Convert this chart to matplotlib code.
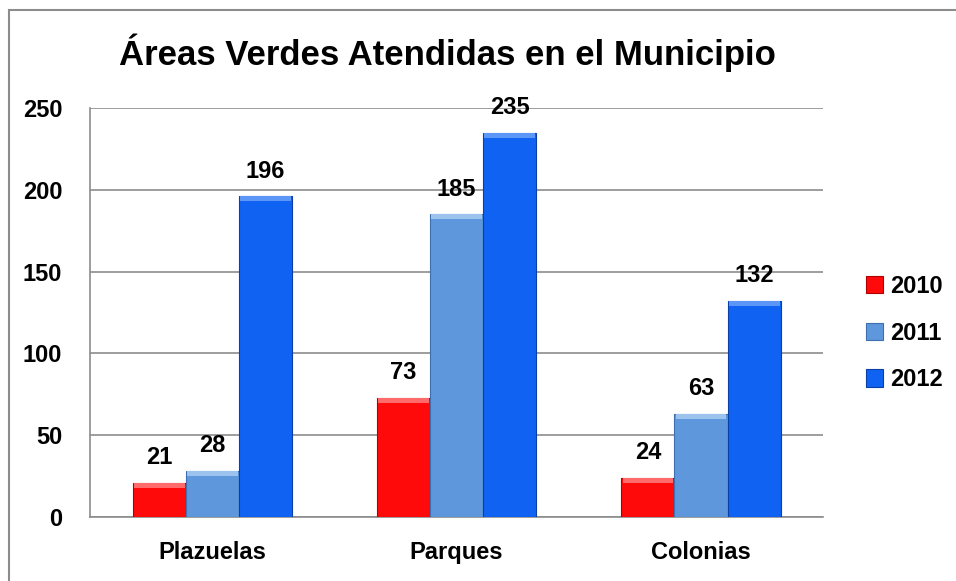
import numpy as np
import matplotlib as mpl
mpl.use("agg")
from matplotlib import pyplot as plt

# data
categories = ["Plazuelas", "Parques", "Colonias"]
years = ["2010", "2011", "2012"]
values2010 = [21, 73, 24]
values2011 = [28, 185, 63]
values2012 = [196, 235, 132]
yTicks = [0, 50, 100, 150, 200, 250]

plt.rcParams["font.family"] = ["Liberation Sans Narrow", "Liberation Sans", "DejaVu Sans"]
plt.rcParams["font.weight"] = "bold"

colors = ["#FF0A0A", "#5E97DB", "#0F62F2"]
edgeColors = ["#B00000", "#3F6FAF", "#0A3FA8"]
topColors = ["#FF6A6A", "#9CC2EE", "#5C97F8"]

fig = plt.figure(figsize=(9.56, 5.81), dpi=100)
ax = fig.add_axes([0.0941, 0.110, 0.767, 0.704])

x = np.arange(len(categories))
barWidth = 0.217
series = [values2010, values2011, values2012]
for i, (year, vals) in enumerate(zip(years, series)):
    pos = x + (i - 1) * barWidth
    bars = ax.bar(pos, vals, width=barWidth, color=colors[i], edgecolor=edgeColors[i],
                  linewidth=0.8, label=year, zorder=3)
    # light bevel strip along the top of each bar
    ax.bar(pos, [3] * len(vals), bottom=np.array(vals) - 3, width=barWidth * 0.96,
           color=topColors[i], linewidth=0, zorder=4)
    for b, v in zip(bars, vals):
        ax.annotate(str(v), (b.get_x() + b.get_width() / 2, v), xytext=(0, 10),
                    textcoords="offset points", ha="center", va="bottom",
                    fontsize=17, fontweight="bold")

ax.set_xlim(-0.5, 2.5)
ax.set_ylim(0, 250)
ax.set_yticks(yTicks)
ax.set_xticks(x)
ax.set_xticklabels(categories, fontsize=17, fontweight="bold")
ax.tick_params(axis="y", labelsize=17, length=0, pad=20)
ax.tick_params(axis="x", length=0, pad=17)
for lbl in ax.get_yticklabels():
    lbl.set_fontweight("bold")
ax.grid(axis="y", color="#8C8C8C", linewidth=1.2, zorder=0)
ax.set_axisbelow(True)
for side in ["top", "right"]:
    ax.spines[side].set_visible(False)
for side in ["left", "bottom"]:
    ax.spines[side].set_color("#8C8C8C")
    ax.spines[side].set_linewidth(1.2)

ax.legend(loc="center left", bbox_to_anchor=(1.029, 0.45), frameon=False,
          handlelength=0.75, handleheight=0.75, handletextpad=0.3,
          labelspacing=1.0, prop={"weight": "bold", "size": 17})

fig.text(0.468, 0.91, "Áreas Verdes Atendidas en el Municipio", ha="center", va="center",
         fontsize=25, fontweight="bold")

# outer chart border (left and top edges visible in the reference)
fig.add_artist(plt.Line2D([0.009, 0.009], [0, 0.983], color="#8C8C8C", linewidth=1.5))
fig.add_artist(plt.Line2D([0.009, 1.0], [0.983, 0.983], color="#8C8C8C", linewidth=1.5))

fig.savefig("out.png", dpi=100)
